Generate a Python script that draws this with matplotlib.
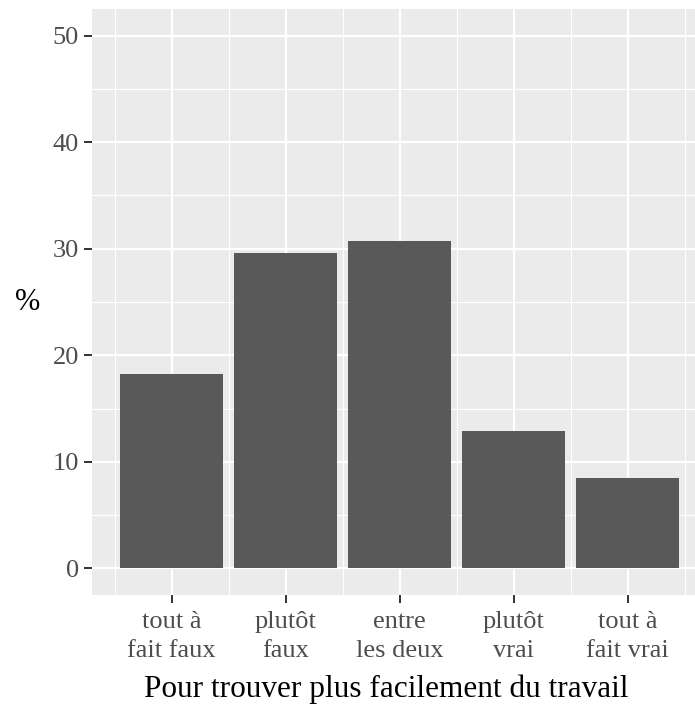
import matplotlib.pyplot as plt
from matplotlib.ticker import MultipleLocator

categories = ['tout à\nfait faux', 'plutôt\nfaux', 'entre\nles deux', 'plutôt\nvrai', 'tout à\nfait vrai']
percents = [18.2, 29.6, 30.7, 12.9, 8.5]
y_ticks = [0, 10, 20, 30, 40, 50]

plt.rcParams['font.family'] = ['Liberation Serif', 'DejaVu Serif']

DPI = 100
fig = plt.figure(figsize=(6.95, 7.04), dpi=DPI)
ax = fig.add_axes([92 / 695, 109 / 704, 1 - 92 / 695, 586 / 704])

ax.set_facecolor('#EBEBEB')
xs = list(range(1, len(categories) + 1))
ax.bar(xs, percents, width=0.9, color='#595959', zorder=3)

ax.set_xlim(0.3, 5.59)
ax.set_ylim(-2.5, 52.5)
ax.set_xticks(xs)
ax.set_xticklabels(categories, fontsize=19, color='#4D4D4D', linespacing=1.4)
ax.set_yticks(y_ticks)
ax.set_yticklabels([str(v) for v in y_ticks], fontsize=19, color='#4D4D4D')
ax.xaxis.set_minor_locator(MultipleLocator(1, offset=0.5))
ax.yaxis.set_minor_locator(MultipleLocator(5, offset=5))

ax.grid(which='major', color='white', linewidth=1.6, zorder=1)
ax.grid(which='minor', color='white', linewidth=0.8, zorder=1)
ax.set_axisbelow(True)
for s in ax.spines.values():
    s.set_visible(False)

ax.tick_params(which='major', length=5.5, width=1.4, color='#333333', pad=6)
ax.tick_params(axis='y', pad=4)
ax.tick_params(which='minor', length=0)

ax.set_xlabel('Pour trouver plus facilement du travail', fontsize=22.5)
ax.xaxis.set_label_coords(0.488, -0.135)
ax.set_ylabel('%', fontsize=22, rotation=0, labelpad=18, va='center')

fig.savefig('out.png', dpi=DPI)
